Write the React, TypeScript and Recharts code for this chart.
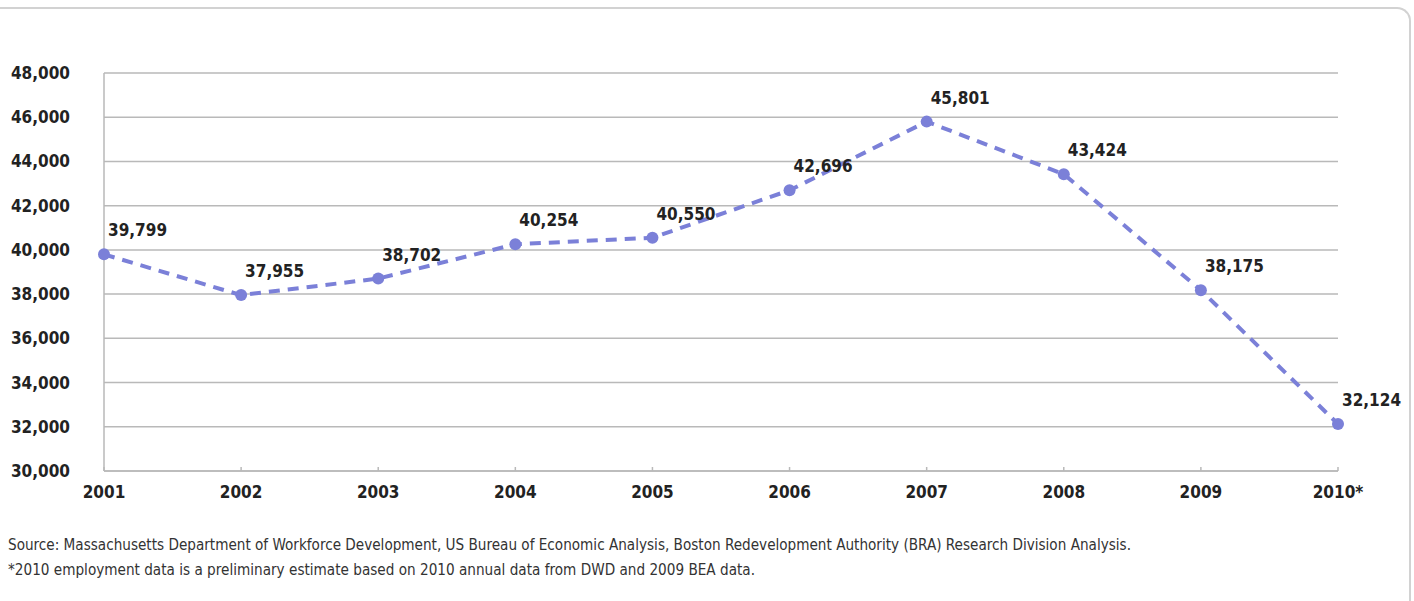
import { CartesianGrid, LabelList, Line, LineChart, XAxis, YAxis } from "recharts";

const YEARS = ["2001", "2002", "2003", "2004", "2005", "2006", "2007", "2008", "2009", "2010*"];
const JOBS = [39799, 37955, 38702, 40254, 40550, 42696, 45801, 43424, 38175, 32124];
const Y_TICKS = [30000, 32000, 34000, 36000, 38000, 40000, 42000, 44000, 46000, 48000];

const SOURCE_NOTE =
  "Source: Massachusetts Department of Workforce Development, US Bureau of Economic Analysis, Boston Redevelopment Authority (BRA) Research Division Analysis.";
const ESTIMATE_NOTE =
  "*2010 employment data is a preliminary estimate based on 2010 annual data from DWD and 2009 BEA data.";

const LINE_COLOR = "#7b80d8";
const GRID_COLOR = "#b9b9b9";
const LABEL_FONT = "'DejaVu Sans Condensed', 'DejaVu Sans', sans-serif";

const data = YEARS.map((year, i) => ({ year, jobs: JOBS[i] }));

function YTick(props: any) {
  const { x, y, payload } = props;
  return (
    <text
      x={x - 34}
      y={y}
      dy={6}
      textAnchor="end"
      fontFamily={LABEL_FONT}
      fontWeight="bold"
      fontSize={17}
      fill="#222"
    >
      {payload.value.toLocaleString("en-US")}
    </text>
  );
}

function XTick(props: any) {
  const { x, y, payload } = props;
  return (
    <g>
      <line x1={x} x2={x} y1={y - 4} y2={y} stroke={GRID_COLOR} strokeWidth={1.5} />
      <text
        x={x}
        y={y + 27}
        textAnchor="middle"
        fontFamily={LABEL_FONT}
        fontWeight="bold"
        fontSize={17}
        fill="#222"
      >
        {payload.value}
      </text>
    </g>
  );
}

function PointLabel(props: any) {
  const { x, y, value } = props;
  return (
    <text
      x={x + 4}
      y={y - 18}
      fontFamily={LABEL_FONT}
      fontWeight="bold"
      fontSize={17}
      fill="#222"
    >
      {Number(value).toLocaleString("en-US")}
    </text>
  );
}

export default function App() {
  return (
    <div style={{ position: "relative", width: 1414, height: 601, background: "#fff", overflow: "hidden" }}>
      <style>{`body{margin:0}`}</style>
      <div
        style={{
          position: "absolute",
          left: -20,
          top: 7,
          width: 1431,
          height: 620,
          borderTop: "2px solid #d2d2d2",
          borderRight: "2px solid #d2d2d2",
          borderTopRightRadius: 14,
          boxSizing: "border-box",
        }}
      />
      <div style={{ position: "absolute", left: 0, top: 0 }}>
        <LineChart width={1414} height={520} data={data} margin={{ top: 73, right: 76, left: 0, bottom: 0 }}>
          <CartesianGrid vertical={false} stroke={GRID_COLOR} strokeWidth={1.5} />
          <XAxis
            dataKey="year"
            height={49}
            axisLine={{ stroke: GRID_COLOR, strokeWidth: 1.5 }}
            tickLine={false}
            tickSize={0}
            tickMargin={0}
            tick={<XTick />}
            interval={0}
          />
          <YAxis
            width={104}
            domain={[30000, 48000]}
            ticks={Y_TICKS}
            axisLine={{ stroke: GRID_COLOR, strokeWidth: 1.5 }}
            tickLine={false}
            tickSize={0}
            tickMargin={0}
            tick={<YTick />}
            interval={0}
          />
          <Line
            type="linear"
            dataKey="jobs"
            stroke={LINE_COLOR}
            strokeWidth={4}
            strokeDasharray="11 8"
            dot={{ r: 6, fill: LINE_COLOR, stroke: "none" }}
            activeDot={false}
            isAnimationActive={false}
          >
            <LabelList dataKey="jobs" content={<PointLabel />} />
          </Line>
        </LineChart>
      </div>
      <svg style={{ position: "absolute", left: 0, top: 530 }} width={1414} height={60}>
        <text x={8} y={20} fontFamily={LABEL_FONT} fontSize={15.5} fill="#333" textLength={1123} lengthAdjust="spacingAndGlyphs">
          {SOURCE_NOTE}
        </text>
        <text x={8} y={45} fontFamily={LABEL_FONT} fontSize={15.5} fill="#333" textLength={747} lengthAdjust="spacingAndGlyphs">
          {ESTIMATE_NOTE}
        </text>
      </svg>
    </div>
  );
}
